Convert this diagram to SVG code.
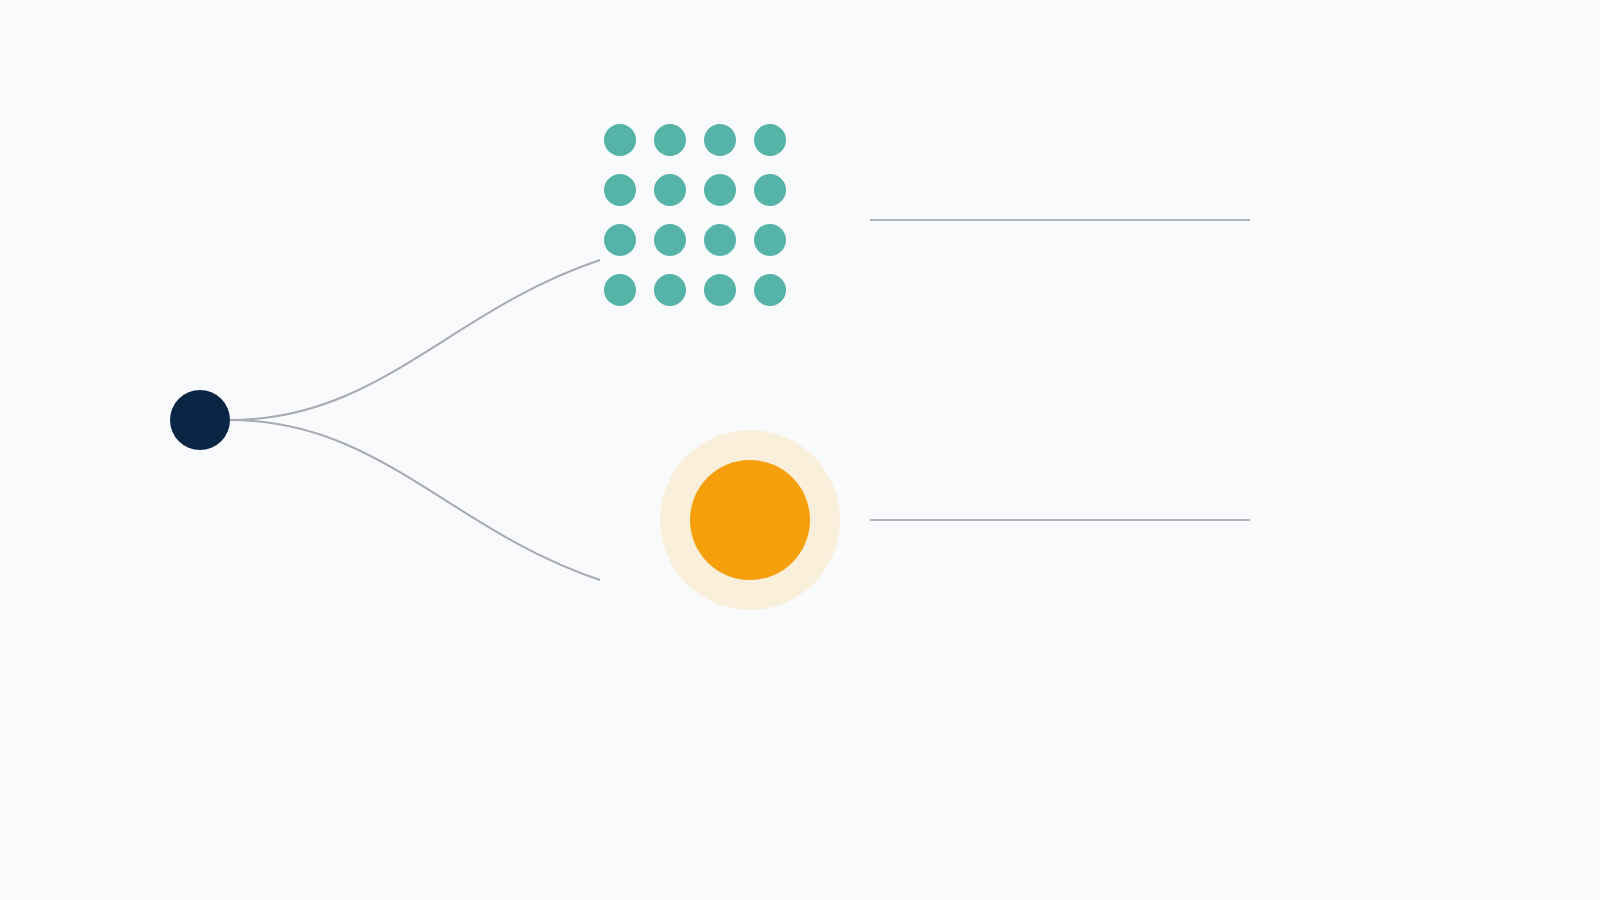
<svg xmlns="http://www.w3.org/2000/svg" width="1600" height="900" viewBox="0 0 1600 900">
  <style>
    .link { fill: none; stroke: #a7aab3; stroke-width: 2; }
    .rule { stroke: #b1b5bd; stroke-width: 2; }
    .dot { fill: #56b3a8; }
  </style>
  <rect x="0" y="0" width="1600" height="900" fill="#f8fafc"/>
  <g id="connectors">
    <path class="link" d="M230,420 C380,420 450,310 600,260"/>
    <path class="link" d="M230,420 C380,420 450,530 600,580"/>
    <line class="rule" x1="870" y1="220" x2="1250" y2="220"/>
    <line class="rule" x1="870" y1="520" x2="1250" y2="520"/>
  </g>
  <g id="source">
    <circle cx="200" cy="420" r="30" fill="#0b2545"/>
  </g>
  <g id="grid">
    <circle class="dot" cx="620" cy="140" r="16"/>
    <circle class="dot" cx="670" cy="140" r="16"/>
    <circle class="dot" cx="720" cy="140" r="16"/>
    <circle class="dot" cx="770" cy="140" r="16"/>
    <circle class="dot" cx="620" cy="190" r="16"/>
    <circle class="dot" cx="670" cy="190" r="16"/>
    <circle class="dot" cx="720" cy="190" r="16"/>
    <circle class="dot" cx="770" cy="190" r="16"/>
    <circle class="dot" cx="620" cy="240" r="16"/>
    <circle class="dot" cx="670" cy="240" r="16"/>
    <circle class="dot" cx="720" cy="240" r="16"/>
    <circle class="dot" cx="770" cy="240" r="16"/>
    <circle class="dot" cx="620" cy="290" r="16"/>
    <circle class="dot" cx="670" cy="290" r="16"/>
    <circle class="dot" cx="720" cy="290" r="16"/>
    <circle class="dot" cx="770" cy="290" r="16"/>
  </g>
  <g id="focus">
    <circle cx="750" cy="520" r="90" fill="#faefda"/>
    <circle cx="750" cy="520" r="60" fill="#f59f0b"/>
  </g>
</svg>
